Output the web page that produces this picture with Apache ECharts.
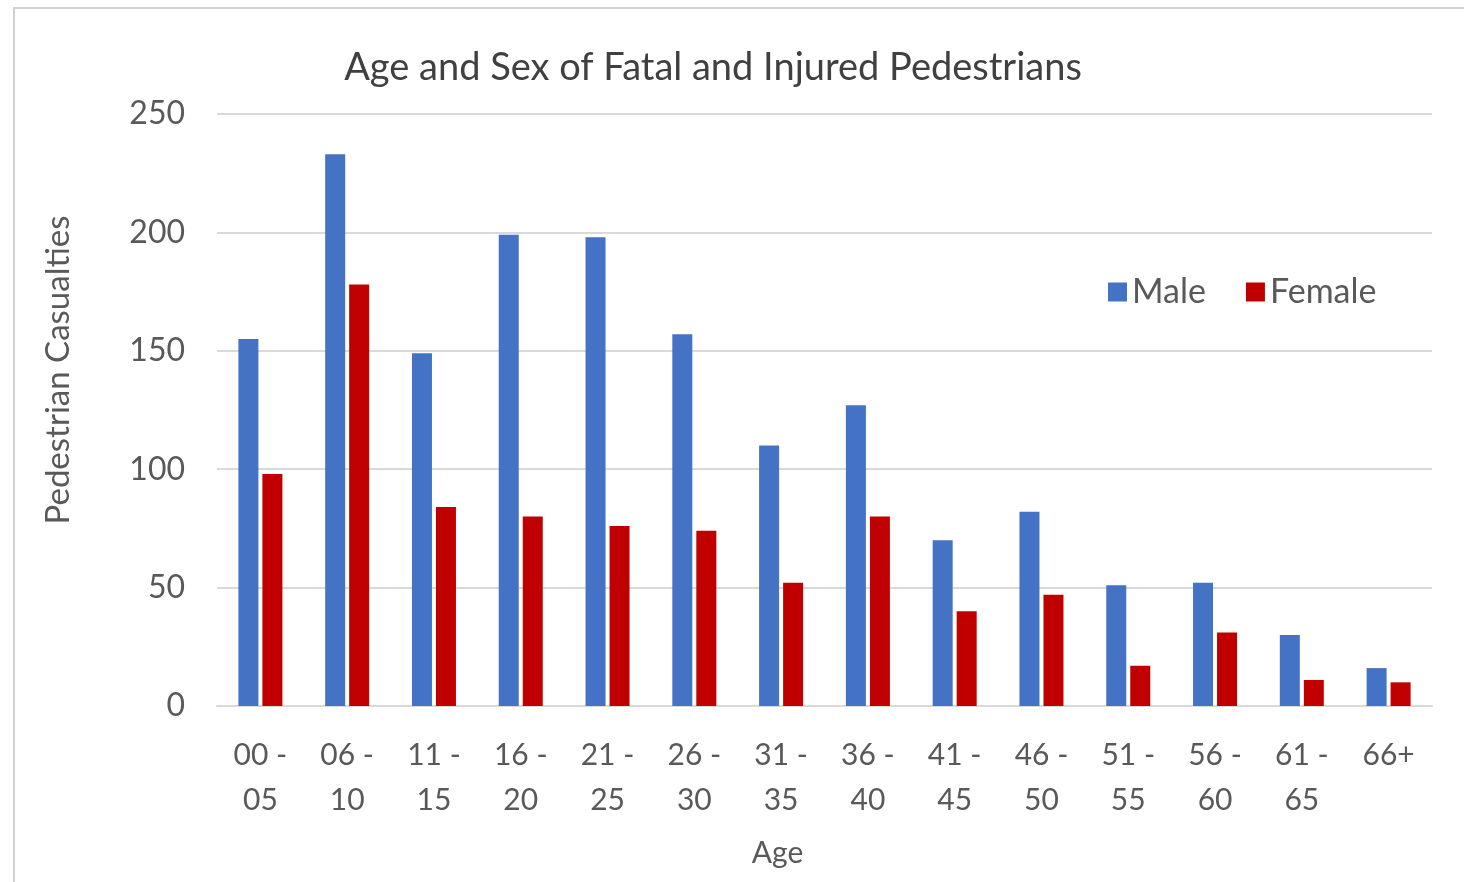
<!DOCTYPE html>
<html><head><meta charset="utf-8">
<script src="https://cdn.jsdelivr.net/npm/echarts@6/dist/echarts.min.js"></script>
<style>html,body{margin:0;padding:0;background:#fff}#c{width:1464px;height:882px}</style>
</head><body><div id="c"></div>
<script>
const categories = ['00 -\n05','06 -\n10','11 -\n15','16 -\n20','21 -\n25','26 -\n30','31 -\n35','36 -\n40','41 -\n45','46 -\n50','51 -\n55','56 -\n60','61 -\n65','66+'];
const maleValues = [155,233,149,199,198,157,110,127,70,82,51,52,30,16];
const femaleValues = [98,178,84,80,76,74,52,80,40,47,17,31,11,10];
const yTicks = [0,50,100,150,200,250];

const FONT = 'Lato, "Open Sans", sans-serif';
const TXT = '#595959';
const chart = echarts.init(document.getElementById('c'));
chart.setOption({
  animation:false,
  backgroundColor:'#fff',
  graphic:[{type:'rect',shape:{x:14,y:8,width:1500,height:900},style:{fill:'none',stroke:'#d0d0d0',lineWidth:2},silent:true}],
  title:{text:'Age and Sex of Fatal and Injured Pedestrians',left:708,textAlign:'center',top:44,
    textStyle:{fontFamily:FONT,fontSize:38,fontWeight:'normal',color:'#404040'}},
  legend:{data:['Male','Female'],left:1103,top:270,itemWidth:19,itemHeight:19,itemGap:40,icon:'rect',
    textStyle:{fontFamily:FONT,fontSize:34,color:TXT}},
  grid:{left:217,right:32,top:114,bottom:176},
  xAxis:{type:'category',data:categories,name:'Age',nameLocation:'middle',nameGap:132,
    nameTextStyle:{fontFamily:FONT,fontSize:30,color:TXT,padding:[0,94,0,0]},
    axisLine:{lineStyle:{color:'#d9d9d9',width:2}},axisTick:{show:false},
    axisLabel:{fontFamily:FONT,fontSize:30,color:TXT,lineHeight:45,margin:27,interval:0}},
  yAxis:{type:'value',min:0,max:250,interval:50,name:'Pedestrian Casualties',nameLocation:'middle',nameGap:142,
    nameTextStyle:{fontFamily:FONT,fontSize:33,color:TXT,padding:[0,0,0,80]},
    axisLine:{show:false},axisTick:{show:false},
    axisLabel:{fontFamily:FONT,fontSize:32,color:TXT,margin:32,formatter:v=>yTicks.includes(v)?String(v):''},
    splitLine:{lineStyle:{color:'#d9d9d9',width:2}}},
  series:[
    {name:'Male',type:'bar',data:maleValues,barWidth:20,barGap:'20%',itemStyle:{color:'#4472C4'}},
    {name:'Female',type:'bar',data:femaleValues,barWidth:20,barGap:'20%',itemStyle:{color:'#C00000'}}
  ]
});
</script></body></html>
